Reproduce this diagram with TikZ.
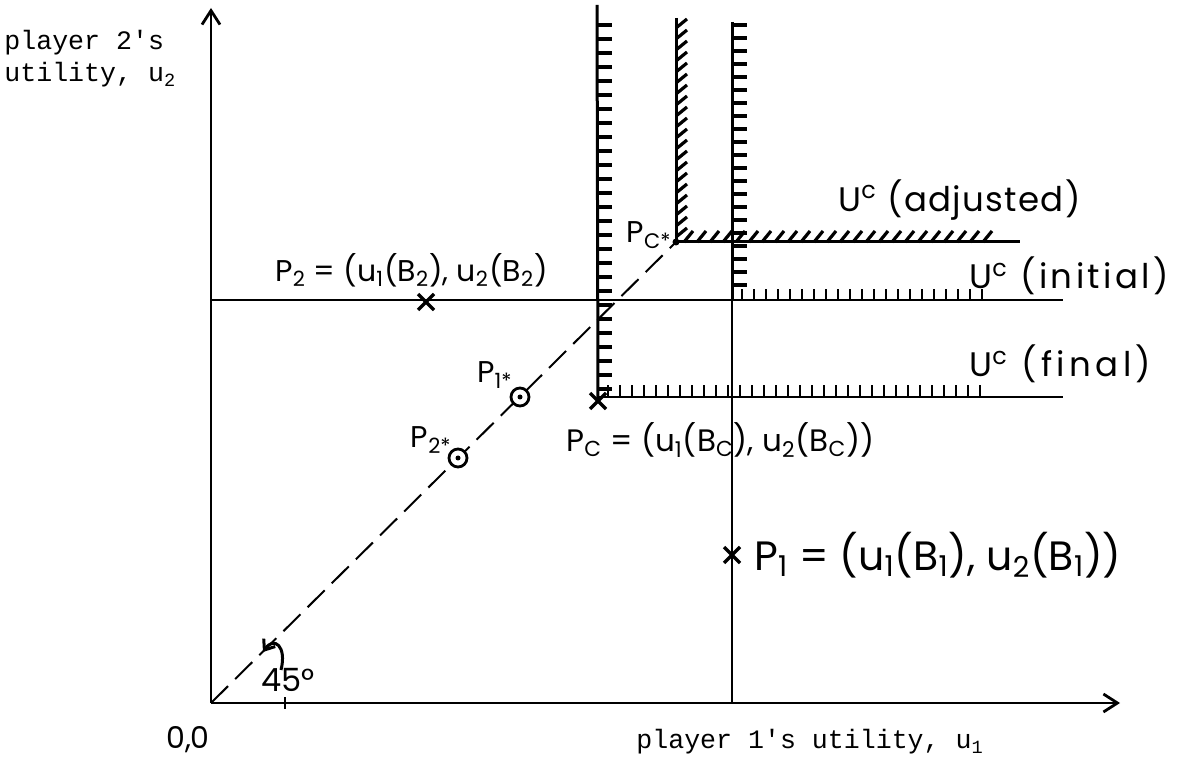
\documentclass[tikz,border=0pt]{standalone}
\usepackage{fontspec}
\setmonofont{Liberation Mono}
\newfontfamily\hand{Poppins}
\newfontfamily\handA{Poppins}[LetterSpace=4]
\newfontfamily\handB{Poppins}[LetterSpace=10]
\newfontfamily\handC{Poppins}[LetterSpace=13]
\usetikzlibrary{arrows.meta}
\newcommand\sbs[1]{\textsubscript{#1}}
\newcommand\spp[1]{\textsuperscript{#1}}
\tikzset{
  axis/.style={line width=1.1pt,-{Straight Barb[length=7pt,width=9pt,line width=1.4pt]}},
  thinline/.style={line width=0.9pt},
  bold/.style={line width=1.5pt},
  tick/.style={line width=1.6pt},
  vtick/.style={line width=1.1pt},
  mono/.style={font=\fontsize{13.3pt}{16pt}\ttfamily, inner sep=0pt},
  hw/.style={font=\fontsize{15pt}{18pt}\hand, inner sep=0pt},
  xmark/.style={line width=1.6pt},
}
\begin{document}
\begin{tikzpicture}[x=0.5pt,y=-0.5pt]
\useasboundingbox (0,0) rectangle (1199,758);
% key points
\coordinate (O) at (211,703);
\coordinate (Ytip) at (211,8);
\coordinate (Xtip) at (1120,703);
\coordinate (PCs) at (676,242);
\coordinate (PC) at (598,401);
\coordinate (P2) at (426,302);
\coordinate (P1) at (732,555);
\coordinate (P1s) at (520,397);
\coordinate (P2s) at (458,458);
% axes
\draw[axis] (O) -- (Ytip);
\draw[axis] (O) -- (Xtip);
% diagonal
\draw[line width=1pt, dash pattern=on 12pt off 5pt] (O) -- (PCs);
% initial line
\coordinate (Ia) at (211,300);
\coordinate (Ib) at (1063,300);
\draw[thinline] (Ia) -- (Ib);
\foreach \x in {742,754,...,986} \draw[vtick] (\x,300) -- ++(0,-11);
% final line
\coordinate (Fb) at (1063,397);
\draw[thinline] (598,397) -- (Fb);
\foreach \x in {608,620,...,986} \draw[vtick] (\x,397) -- ++(0,-12);
% left vertical
\draw[bold] (597,5) -- (PC);
\foreach \y in {25,39,...,390} \draw[tick] (597,\y) -- ++(15,0);
% right vertical
\draw[bold] (732,22) -- (732,300);
\draw[thinline] (732,300) -- (732,703);
\foreach \y in {25,38,...,296} \draw[tick] (732,\y) -- ++(15,0);
% adjusted vertical
\draw[bold] (676,18) -- (PCs);
\foreach \y in {28,39,...,238} \draw[tick] (676,\y) -- ++(11,-9);
% adjusted horizontal
\coordinate (Ab) at (1020,242);
\draw[bold] (PCs) -- (Ab);
\foreach \x in {684,697,...,995} \draw[tick] (\x,242) -- ++(9,-11);
% markers
\fill (PCs) circle (3.5);
\draw[xmark] (PC) ++(-8,-8) -- ++(16,16) ++(-16,0) -- ++(16,-16);
\draw[xmark] (P1) ++(-8,-8) -- ++(16,16) ++(-16,0) -- ++(16,-16);
\draw[xmark] (P2) ++(-8,-8) -- ++(16,16) ++(-16,0) -- ++(16,-16);
\draw[line width=1.4pt, fill=white] (P1s) circle (9); \fill (P1s) circle (2.5);
\draw[line width=1.4pt, fill=white] (P2s) circle (9); \fill (P2s) circle (2.5);
% 45 degree mark and arc
\draw[line width=1.3pt] (285,697) -- (285,709) (279,703) -- (291,703);
\draw[line width=1.5pt,-{Straight Barb[length=4.5pt,width=7pt]}] (281,670) .. controls (287,646) and (274,636) .. (263,652);
% labels
\node[mono, anchor=west] (ylab1) at (4,43) {player 2's};
\node[mono, anchor=west] (ylab2) at (4,75) {utility, u\sbs{2}};
\node[mono, anchor=west] (xlab) at (636,742) {player 1's utility, u\sbs{1}};
\node[hw, anchor=center] (orig) at (188,740) {0,0};
\node[font=\fontsize{16pt}{18pt}\hand, inner sep=0pt, anchor=center] (ang) at (288,680) {45°};
\node[hw, anchor=west] (p2lab) at (275,270) {P\sbs{2} = (u\sbs{1}(B\sbs{2}), u\sbs{2}(B\sbs{2})};
\node[hw, anchor=east] (p1slab) at (513,375) {P\sbs{1*}};
\node[hw, anchor=east] (p2slab) at (452,440) {P\sbs{2*}};
\node[hw, anchor=east] (pcslab) at (672,235) {P\sbs{C*}};
\node[font=\fontsize{15.5pt}{20pt}\hand, inner sep=0pt, anchor=west] (pclab) at (566,440) {P\sbs{C} = (u\sbs{1}(B\sbs{C}), u\sbs{2}(B\sbs{C}))};
\node[font=\fontsize{20.5pt}{24pt}\hand, inner sep=0pt, anchor=west] (p1lab) at (754,555) {P\sbs{1} = (u\sbs{1}(B\sbs{1}), u\sbs{2}(B\sbs{1}))};
\node[font=\fontsize{17pt}{20pt}\handA, inner sep=0pt, anchor=west] (uadj) at (838,200) {U\spp{c} (adjusted)};
\node[font=\fontsize{17pt}{20pt}\handB, inner sep=0pt, anchor=west] (uini) at (969,276) {U\spp{c} (initial)};
\node[font=\fontsize{17pt}{20pt}\handC, inner sep=0pt, anchor=west] (ufin) at (969,364) {U\spp{c} (final)};
\end{tikzpicture}
\end{document}
